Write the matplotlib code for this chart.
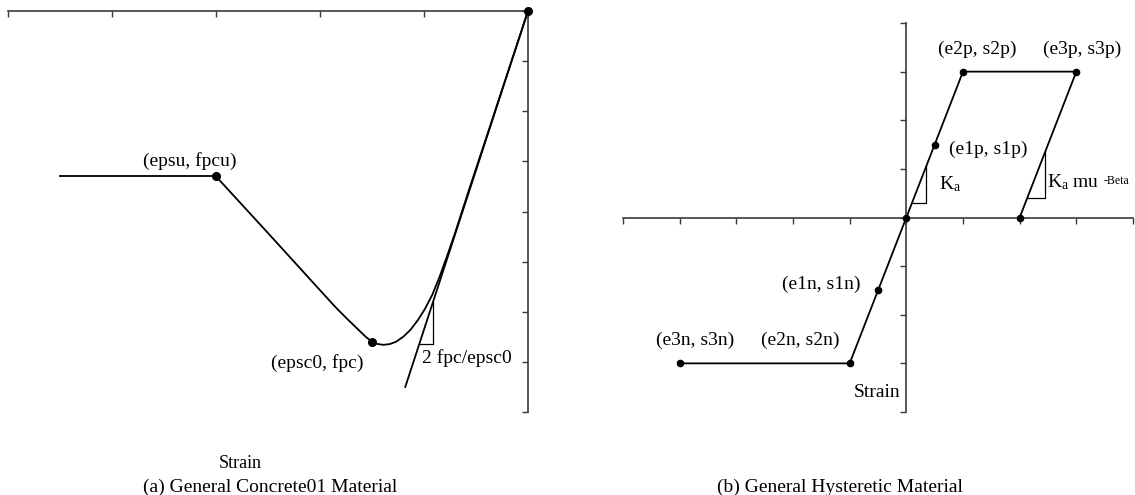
#! /usr/bin/python3

import numpy as np
import matplotlib
matplotlib.use("Agg")
import matplotlib.pyplot as plt

# Concrete01 backbone (compression drawn negative)
plateau_x = [-4.5, -3.0]
plateau_y = [-3.3, -3.3]
curve_x = [-3.0, -2.5, -2.0, -1.85, -1.75, -1.65, -1.56, -1.5, -1.45, -1.39,
           -1.33, -1.27, -1.2, -1.13, -1.06, -0.99, -0.92, -0.85, -0.78,
           -0.70, -0.56, -0.40, -0.24, 0.0]
curve_y = [-3.3, -4.43, -5.57, -5.91, -6.12, -6.32, -6.5, -6.6, -6.642,
           -6.66, -6.645, -6.6, -6.5, -6.36, -6.17, -5.94, -5.66, -5.3, -4.9,
           -4.42, -3.52, -2.52, -1.51, 0.0]
tangent_x = [0.0, -1.18]
tangent_y = [0.0, -7.5]
concrete_pts_x = [-3.0, -1.5, 0.0]
concrete_pts_y = [-3.3, -6.6, 0.0]
concrete_labels = ["(epsu, fpcu)", "(epsc0, fpc)"]

# Hysteretic envelope and unloading branch
hyst_x = [-4.0, -1.0, -0.5, 0.0, 0.5, 1.0, 3.0, 2.0]
hyst_y = [-3.0, -3.0, -1.5, 0.0, 1.5, 3.0, 3.0, 0.0]
hyst_labels = ["(e3n, s3n)", "(e2n, s2n)", "(e1n, s1n)", "(e1p, s1p)",
               "(e2p, s2p)", "(e3p, s3p)"]

FIG_W, FIG_H = 1135, 495


def px_axes(fig, left, top, right, bottom):
    return fig.add_axes([left / FIG_W, 1 - bottom / FIG_H,
                         (right - left) / FIG_W, (bottom - top) / FIG_H])


def main():
    plt.rcParams['font.family'] = ['Liberation Serif', 'DejaVu Serif']
    plt.rcParams['mathtext.fontset'] = 'custom'
    plt.rcParams['mathtext.rm'] = 'Liberation Serif'
    plt.rcParams['mathtext.it'] = 'Liberation Serif:italic'
    fs = 14
    axis_color = '#3a3a3a'
    lw = 1.3

    fig = plt.figure(figsize=(FIG_W / 100, FIG_H / 100), dpi=100)

    # (a) Concrete01
    ax = px_axes(fig, 8, 11, 528, 412)
    ax.set_xlim(-5, 0)
    ax.set_ylim(-8, 0)
    for s in ('left', 'bottom'):
        ax.spines[s].set_visible(False)
    for s in ('top', 'right'):
        ax.spines[s].set_color(axis_color)
        ax.spines[s].set_linewidth(1.2)
    ax.xaxis.tick_top()
    ax.yaxis.tick_right()
    ax.set_xticks(np.arange(-5, 1))
    ax.set_yticks(np.arange(-8, 1))
    ax.tick_params(direction='in', length=4, width=1.0, color=axis_color,
                   labeltop=False, labelright=False,
                   labelbottom=False, labelleft=False)

    ax.plot(plateau_x, plateau_y, color='black', lw=lw, clip_on=False)
    ax.plot(curve_x, curve_y, color='black', lw=lw, clip_on=False)
    ax.plot(tangent_x, tangent_y, color='black', lw=lw, clip_on=False)
    ax.plot(concrete_pts_x, concrete_pts_y, 'o', color='black', ms=5.5,
            clip_on=False, zorder=5)

    # slope marker on the tangent
    ax.plot([-1.046, -0.913, -0.913], [-6.65, -6.65, -5.81], color='black',
            lw=0.9)
    ax.text(-1.02, -6.93, "2 fpc/epsc0", fontsize=fs, ha='left', va='center')
    ax.text(-3.25, -3.0, concrete_labels[0], fontsize=fs, ha='center',
            va='center')
    ax.text(-2.03, -7.02, concrete_labels[1], fontsize=fs, ha='center',
            va='center')
    ax.text(-2.77, -9.03, "Strain", fontsize=fs * 0.93, ha='center',
            va='center', clip_on=False)

    # (b) Hysteretic
    bx = px_axes(fig, 623, 23, 1133, 412)
    bx.set_xlim(-5, 4)
    bx.set_ylim(-4, 4)
    for s in ('top', 'right'):
        bx.spines[s].set_visible(False)
    for s in ('left', 'bottom'):
        bx.spines[s].set_position(('data', 0))
        bx.spines[s].set_color(axis_color)
        bx.spines[s].set_linewidth(1.2)
    bx.set_xticks(np.arange(-5, 5))
    bx.set_yticks(np.arange(-4, 5))
    bx.tick_params(direction='out', length=4, width=1.0, color=axis_color,
                   labelbottom=False, labelleft=False)

    bx.plot(hyst_x, hyst_y, color='black', lw=lw, clip_on=False)
    bx.plot(hyst_x, hyst_y, 'o', color='black', ms=4.5, clip_on=False,
            zorder=5)

    # stiffness markers
    bx.plot([0.1, 0.35, 0.35], [0.3, 0.3, 1.05], color='black', lw=0.9)
    bx.plot([2.137, 2.447, 2.447], [0.41, 0.41, 1.34], color='black', lw=0.9)
    bx.text(0.58, 0.68, r"K$_\mathrm{a}$", fontsize=fs, ha='left',
            va='center')
    kt = bx.text(2.49, 0.72, r"K$_\mathrm{a}$ mu", fontsize=fs, ha='left',
                 va='center')
    bx.annotate("-Beta", xy=(1, 1), xycoords=kt, xytext=(3, -2),
                textcoords='offset points', fontsize=8.5, ha='left',
                va='top')

    label_x = [-3.73, -1.87, -1.51, 1.44, 1.25, 3.1]
    label_y = [-2.53, -2.53, -1.37, 1.40, 3.46, 3.46]
    for lx, ly, txt in zip(label_x, label_y, hyst_labels):
        bx.text(lx, ly, txt, fontsize=fs, ha='center', va='center')
    bx.text(-0.1, -3.59, "Strain", fontsize=fs, ha='right', va='center')

    fig.text(270 / FIG_W, 1 - 487 / FIG_H, "(a) General Concrete01 Material",
             fontsize=fs, ha='center', va='center')
    fig.text(840 / FIG_W, 1 - 487 / FIG_H, "(b) General Hysteretic Material",
             fontsize=fs, ha='center', va='center')

    fig.savefig("out.png", dpi=100)


if __name__ == '__main__':
    main()
